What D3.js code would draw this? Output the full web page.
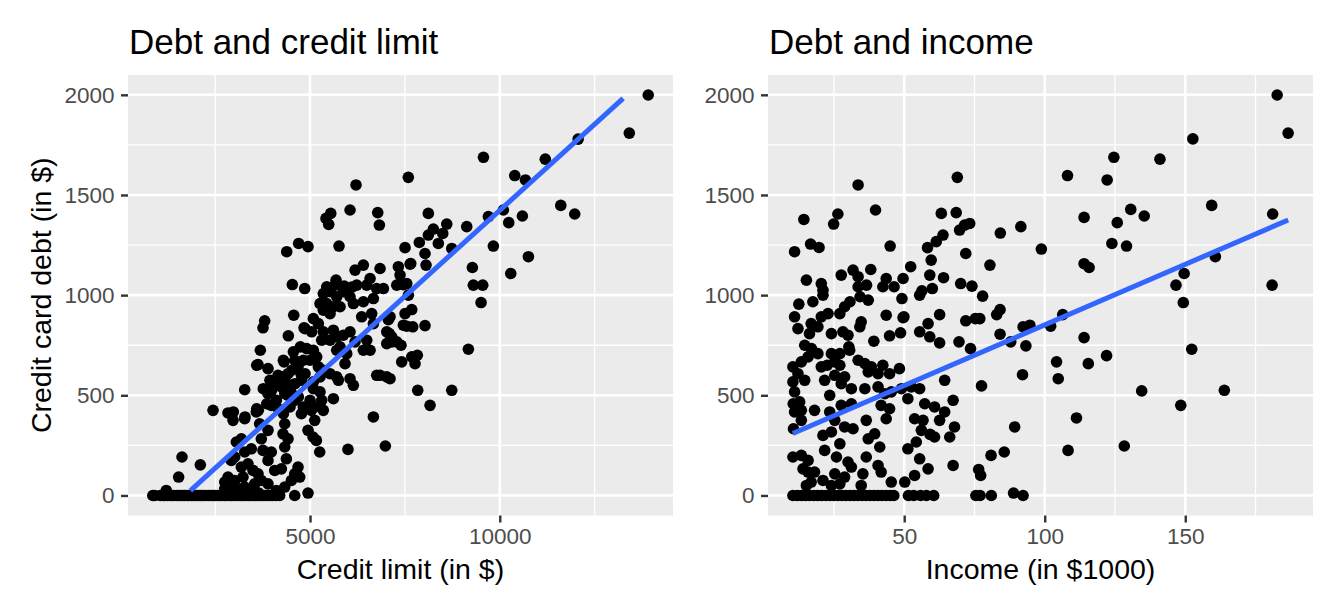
<!DOCTYPE html>
<html><head><meta charset="utf-8">
<script src="https://cdn.jsdelivr.net/npm/d3@7"></script>
<style>
html,body{margin:0;padding:0;background:#fff;}
svg{display:block;font-family:"Liberation Sans",Arial,sans-serif;}
</style></head>
<body>
<svg id="chart" width="1344" height="614"></svg>
<script>
// ---------- DATA ----------
const panelTitles = ["Debt and credit limit", "Debt and income"];
const xTitles = ["Credit limit (in $)", "Income (in $1000)"];
const yTitle = "Credit card debt (in $)";
const yTicks = [0, 500, 1000, 1500, 2000];
const yMinor = [250, 750, 1250, 1750];
const xTicksLeft = [5000, 10000];
const xMinorLeft = [2500, 7500, 12500];
const xTicksRight = [50, 100, 150];
const xMinorRight = [25, 75, 125, 175];

// [credit limit, balance]
const limitBalance = [
[13913,1999],[13414,1809],[12066,1779],[11200,1679],[9570,1688],[10395,1597],[10676,1575],[7590,1588],[11608,1448],[11976,1405],[10095,1425],[9700,1392],[10596,1395],[10237,1362],[9130,1342],[8118,1408],[8603,1355],[8250,1330],[8118,1300],[8497,1308],[7880,1263],[8381,1258],[9831,1245],[8030,1208],[7504,1237],[8735,1233],[7654,1158],[8057,1150],[10755,1192],[9278,1138],[10290,1108],[9304,1050],[9551,1050],[9507,963],[9173,730],[8735,525],[8163,450],[7838,525],[6985,247],[7416,667],[7767,658],[7828,700],[7108,583],[6845,600],[7398,750],[7153,767],[7090,808],[8030,848],[7549,845],[7707,842],[7504,908],[7680,928],[7591,1000],[7064,878],[7285,1050],[7549,1058],[6933,1033],[7328,1142],[7636,1155],
[3278,528],[2443,425],[2838,412],[2970,375],[3278,383],[3584,417],[3892,508],[3980,450],[4112,475],[4333,508],[4420,500],[4069,575],[4333,575],[4596,475],[4772,408],[5034,425],[5123,375],[4947,325],[5079,292],[5167,275],[4333,358],[4288,308],[4420,283],[4333,242],[4376,183],[3892,325],[3716,283],[3672,358],[5255,217],[4684,142],[4728,92],[4596,108],[4244,133],[4069,125],[3892,175],[3980,217],[3760,225],[3189,283],[3057,267],[3452,233],[3278,217],[3014,192],[2926,175],[3365,158],[3189,142],[2838,92],[2751,67],[3014,75],[3233,92],[3497,125],[3629,108],[3716,75],[3892,58],[3541,58],[3278,42],[3101,33],[2926,33],[2751,33],[4112,25],[4333,42],[4508,75],[1625,192],[2108,153],[1537,92],[1211,25],[4596,0],[4947,12],
[855,0],[906,0],[1050,0],[1134,0],[1160,0],[1233,0],[1300,0],[1362,0],[1415,0],[1500,0],[1550,0],[1600,0],[1666,0],[1700,0],[1765,0],[1810,0],[1870,0],[1926,0],[1980,0],[2040,0],[2100,0],[2150,0],[2200,0],[2270,0],[2330,0],[2400,0],[2450,0],[2500,0],[2560,0],[2620,0],[2680,0],[2750,0],[2800,0],[2870,0],[2930,0],[2990,0],[3050,0],[3120,0],[3180,0],[3240,0],[3300,0],[3370,0],[3430,0],[3500,0],[3560,0],[3620,0],[3690,0],[3750,0],[3820,0],[3880,0],[3950,0],[4020,0],[4100,0],[4200,0],
[2850,10],[3150,15],[3400,8],[3650,12],[3000,20],[3300,25],[3550,20],
[4700,1258],[4385,1217],[4947,1242],[4533,1053],[4860,1033],[4570,900],[4842,837],[3805,872],[3760,837],[4428,797],[3690,725],[4744,742],[3629,653],[3892,633],[4314,667],[4156,600],[4420,608],[4596,675],[4684,642],[4772,600],[3892,533],[4069,567],[4244,542],[4508,550],
[6212,1550],[5421,1383],[5545,1408],[5492,1353],[6054,1425],[6784,1412],[6827,1350],[5764,1245],[5440,1042],[5660,1050],[5900,1045],[6100,1040],
[5685,1075],[6186,1125],[6405,1150],[6582,1083],[6845,1133],[7372,1100],[7460,1052],[6230,1050],[6494,1050],[6757,1033],[5350,1008],[5527,1017],[5703,992],[5878,1017],[5263,958],[5440,958],[5615,942],[5791,942],[5527,908],[5350,925],[6054,992],[6142,958],[6405,967],[6669,983],[6361,892],[6625,908],[6669,858],[7108,892],[7021,817],[7153,792],[7285,767],[7460,850],
[4868,833],[5087,883],[5219,858],[5043,817],[5350,817],[5615,825],[5527,775],[5307,775],[5703,792],[5878,800],[5791,742],[5967,708],[5703,725],[5922,658],[6054,817],[6186,767],[6494,775],[6405,725],[6582,725],[7021,758],[7680,692],[6757,600],[7021,592],[6669,392],[3594,650],[4297,675],
[4560,717],[4912,733],[5087,725],[5175,692],[4824,675],[5000,675],[5219,642],[4648,642],[4516,625],[5350,625],[5527,608],[5263,592],[5087,567],[4868,608],[4780,575],[4604,558],[4297,592],[5703,592],[5747,575],[6054,583],[6142,550],[3944,575],[3768,533],[3988,525],
[4516,508],[4692,492],[5087,533],[5263,517],[5000,475],[5307,475],[4824,442],[5131,442],[5615,483],[5350,425],[4472,442],[4297,408],[4165,433],[3858,458],[3637,425],[2978,417],[3285,392],[3594,433],[6000,230]
];

// [income, balance]
const incomeBalance = [
[182.7,1999],[186.6,1809],[152.7,1780],[124.6,1688],[141,1679],[108.1,1597],[122.2,1575],[159.4,1448],[181.1,1405],[130.6,1428],[135.4,1395],[125.8,1362],[114.0,1388],[91.5,1342],[84.2,1310],[123.9,1258],[129.1,1245],[98.8,1230],[80.5,1150],[114,1157],[115.8,1138],[160.7,1192],[149.6,1108],[146.7,1050],[149.3,963],[180.9,1050],[77.9,995],[84.1,928],[82.9,903],[76.9,883],[92.3,842],[94.7,850],[102.1,845],[106.4,903],[84.1,805],[87.9,767],[93.3,747],[114,788],[104.2,667],[104.8,583],[115.5,658],[122,698],[92.1,603],[77.5,547],[152.3,730],[134.5,522],[163.9,525],[148.4,450],[111.3,387],[89.3,342],[80.9,200],[85.6,217],[108.3,225],[128.3,247],[77,0],[81,0],[88.9,12],[92.3,0],
[33.6,1550],[14.3,1378],[26.4,1405],[24.9,1355],[39.8,1425],[68.9,1588],[63.2,1408],[68.5,1412],[69.7,1325],[71.5,1350],[73.3,1358],[63.8,1300],[61.4,1267],[58.3,1237],[71.9,1208],[59.6,1175],[11.0,1217],[16.7,1255],[19.7,1238],[45.0,1245],[52.3,1142],[59.1,1100],[64.0,1087],[49.6,1083],[70.1,1058],[74.1,1045],[38.1,1128],[31.8,1125],[27.6,1100],[33.6,1092],[15.2,1075],[20.5,1058],[21.1,1025],[21.1,1000],[17.5,967],[12.5,955],[11,892],[12.2,833],[43.6,1083],[42.4,1042],[46.4,1042],[49.2,983],[49.9,892],[33.6,1042],[36.6,1050],[34.3,992],[37.2,975],[30.7,967],[28.8,942],[27.1,908],[22.9,908],[20.5,892],[16.9,858],[24.1,808],[28.2,817],[30.0,800],[34.7,867],[34.2,842],[43.6,900],[19.3,842],[16.3,808],[55.5,1000],[56.3,1022],[60.0,1033],[62.6,903],[71.9,872],[75.3,883],[58.5,858],[55.5,817],[59.1,792],[62.6,762],[69.5,767],[73.6,733],[44.8,797],[48.7,812],[49.6,888],[39.2,770],[30.3,742],
[10.4,642],[12.2,608],[10.4,567],[14.6,575],[11,517],[12.8,467],[10.5,458],[13.4,425],[11,417],[10.6,333],[13.4,375],[10.4,192],[13.4,200],[14,133],[15.8,117],[15.2,50],[14.6,750],[17,733],[19.3,708],[15.8,692],[13.4,667],[24.1,708],[27.1,708],[25.3,667],[30.6,725],[22.6,650],[27.1,650],[20.5,642],[33.6,675],[36,658],[38.3,642],[42.4,650],[44.8,608],[40.7,608],[37.2,617],[48.3,633],[21.7,575],[25.3,600],[28.8,592],[31.2,533],[36,533],[23.5,500],[27.6,558],[40.7,542],[43.1,508],[45.4,517],[49,533],[52.5,542],[55.5,533],[51.3,483],[64.4,575],[67.4,475],[57.3,458],[60.8,442],[64.4,417],[62.6,375],[67.9,342],[66.2,292],[60.8,292],[59.2,305],[53.7,383],[56.7,375],[56.1,325],[54.3,267],[51.3,233],[55.5,183],[58.5,133],[53.7,100],[50.2,67],[41.8,450],[44.8,433],[43.6,383],[36.5,375],[39.5,308],[37.2,283],[41.3,242],[36.5,192],[40.7,150],[41.8,117],[45.4,67],[18.1,425],[23.5,417],[27.6,450],[31.2,458],[25.3,375],[28.8,342],[31.8,333],[21.1,300],[24.1,317],[27.1,258],[21.7,225],[25.9,192],[30,167],[31.2,142],[15.8,175],[18.1,117],[16.9,67],[21.1,75],[25.3,108],[24.1,50],[27.1,58],[28.8,92],[34.7,50],[35.3,108],[67.4,150],[76.5,130],[77.2,100],
[10.4,0],[12.0,0],[13.5,0],[14.9,0],[16.3,0],[17.8,0],[19.2,0],[20.6,0],[22.1,0],[23.5,0],[24.9,0],[26.4,0],[27.8,0],[29.2,0],[30.7,0],[32.1,0],[33.5,0],[35.0,0],[36.4,0],[37.8,0],[39.3,0],[40.7,0],[42.1,0],[43.6,0],[45.0,0],[46.3,0],[51.5,0],[53.4,0],[55.8,0],[57.9,0],[60.5,0],[75.5,0]
];

// fitted lines (lm), visible part: [x, balance]
const fitLeft = [[1847, 24.2], [13252, 1981.8]];
const fitRight = [[10.354, 309.1], [186.634, 1375.3]];
const xExtents = [[855, 13913], [10.354, 186.634]];
const yExtent = [0, 1999];

// ---------- DRAW ----------
const svg = d3.select("#chart");
const pTop = 75, pBottom = 515.5;
const panels = [
  {x0: 128, x1: 673, pts: limitBalance, fit: fitLeft, ticks: xTicksLeft, minor: xMinorLeft},
  {x0: 768, x1: 1313, pts: incomeBalance, fit: fitRight, ticks: xTicksRight, minor: xMinorRight}
];

function expand(ext){ const r = ext[1]-ext[0]; return [ext[0]-0.05*r, ext[1]+0.05*r]; }
const y = d3.scaleLinear().domain(expand(yExtent)).range([pBottom, pTop]);

panels.forEach((p, i) => {
  const x = d3.scaleLinear().domain(expand(xExtents[i])).range([p.x0, p.x1]);
  const g = svg.append("g");
  g.append("rect").attr("x", p.x0).attr("y", pTop).attr("width", p.x1 - p.x0).attr("height", pBottom - pTop).attr("fill", "#EBEBEB");
  g.append("g").selectAll("line").data(yMinor).join("line").attr("x1", p.x0).attr("x2", p.x1)
    .attr("y1", d => y(d)).attr("y2", d => y(d)).attr("stroke", "#fff").attr("stroke-width", 1.3);
  g.append("g").selectAll("line").data(p.minor).join("line").attr("y1", pTop).attr("y2", pBottom)
    .attr("x1", d => x(d)).attr("x2", d => x(d)).attr("stroke", "#fff").attr("stroke-width", 1.3);
  g.append("g").selectAll("line").data(yTicks).join("line").attr("x1", p.x0).attr("x2", p.x1)
    .attr("y1", d => y(d)).attr("y2", d => y(d)).attr("stroke", "#fff").attr("stroke-width", 2.6);
  g.append("g").selectAll("line").data(p.ticks).join("line").attr("y1", pTop).attr("y2", pBottom)
    .attr("x1", d => x(d)).attr("x2", d => x(d)).attr("stroke", "#fff").attr("stroke-width", 2.6);

  g.append("g").selectAll("circle").data(p.pts).join("circle")
    .attr("cx", d => x(d[0])).attr("cy", d => y(d[1])).attr("r", 5.8).attr("fill", "#000");

  g.append("path").datum(p.fit)
    .attr("d", d3.line().x(d => x(d[0])).y(d => y(d[1])))
    .attr("stroke", "#3366FF").attr("stroke-width", 5).attr("fill", "none");

  const ax = d3.axisBottom(x).tickValues(p.ticks).tickFormat(d3.format("d")).tickSize(7).tickPadding(6);
  const xa = svg.append("g").attr("transform", `translate(0,${pBottom})`).call(ax);
  const ay = d3.axisLeft(y).tickValues(yTicks).tickFormat(d3.format("d")).tickSize(7).tickPadding(6.5);
  const ya = svg.append("g").attr("transform", `translate(${p.x0},0)`).call(ay);
  [xa, ya].forEach(a => {
    a.select(".domain").remove();
    a.selectAll(".tick line").attr("stroke", "#333333").attr("stroke-width", 2.4);
    a.selectAll(".tick text").attr("fill", "#4D4D4D").style("font-size", "22.5px")
      .style("font-family", '"Liberation Sans", Arial, sans-serif');
  });

  svg.append("text").attr("x", p.x0 + 1).attr("y", 53.5).text(panelTitles[i])
    .style("font-size", "35px").attr("fill", "#000");
  svg.append("text").attr("x", (p.x0 + p.x1) / 2).attr("y", 578.5).attr("text-anchor", "middle")
    .text(xTitles[i]).style("font-size", "28.5px").attr("fill", "#000");
});

svg.append("text").attr("transform", `translate(51,${(pTop + pBottom) / 2}) rotate(-90)`)
  .attr("text-anchor", "middle").text(yTitle).style("font-size", "28.5px").attr("fill", "#000");
</script>
</body></html>
